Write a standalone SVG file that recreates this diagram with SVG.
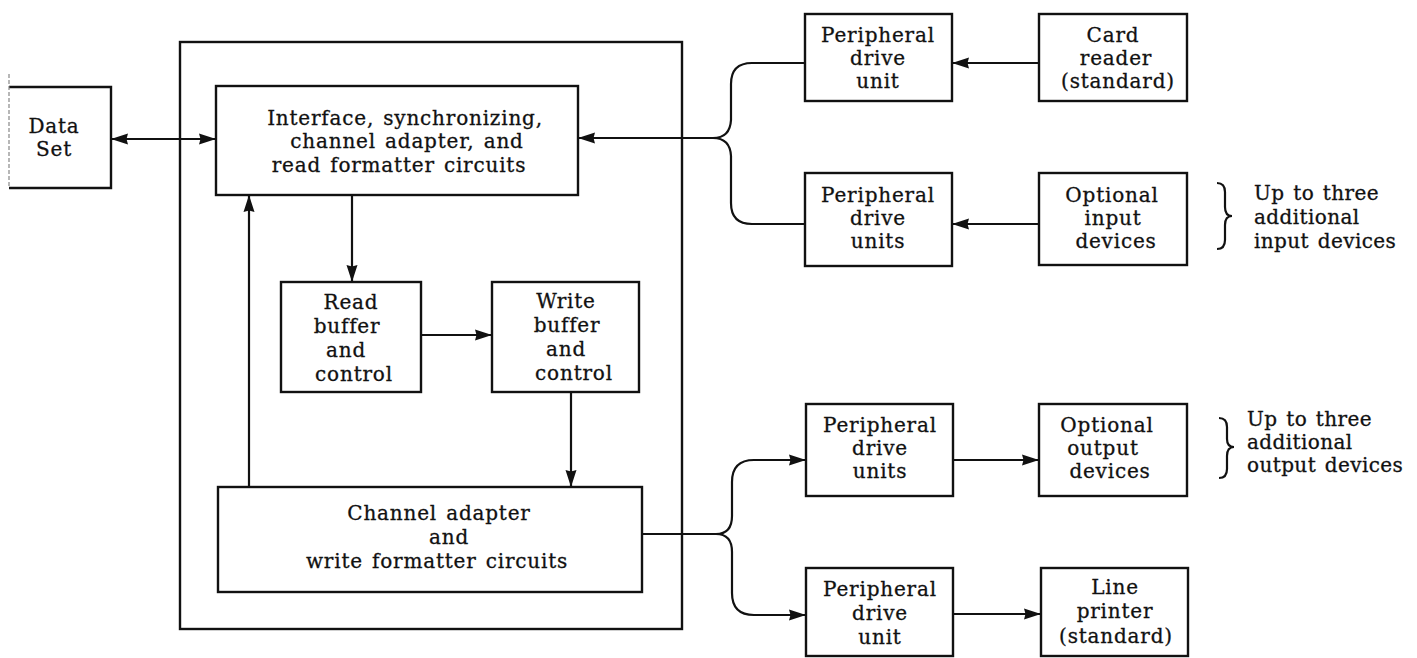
<svg xmlns="http://www.w3.org/2000/svg" width="1417" height="658" viewBox="0 0 1417 658">
  <style>
    .box { fill: none; stroke: #111; stroke-width: 2.4; }
    .wire { fill: none; stroke: #111; stroke-width: 2.2; }
    .lbl { font-family: "DejaVu Serif", "Liberation Serif", serif; font-size: 20px; fill: #111; stroke: #111; stroke-width: 0.3; text-anchor: middle; letter-spacing: 0.8px; word-spacing: 2px; }
    .note { font-family: "DejaVu Serif", "Liberation Serif", serif; font-size: 20px; fill: #111; stroke: #111; stroke-width: 0.3; letter-spacing: 0.4px; word-spacing: 2px; }
  </style>
  <defs>
    <marker id="arrow" viewBox="0 0 17 12" refX="17" refY="6" markerWidth="17" markerHeight="12" markerUnits="userSpaceOnUse" orient="auto-start-reverse">
      <path d="M0,0.5 L17,6 L0,11.5 L1.5,6 Z" fill="#111"/>
    </marker>
  </defs>
  <rect width="1417" height="658" fill="#fff"/>

  <!-- enclosing controller frame -->
  <g id="controller-frame">
    <rect class="box" x="180" y="42" width="502" height="587"/>
  </g>

  <g id="data-set">
    <path class="box" d="M9 87 H111 V188 H9"/>
    <line x1="9" y1="74" x2="9" y2="188" stroke="#888" stroke-width="1.2" stroke-dasharray="4 2"/>
    <text class="lbl" x="54" y="133">Data</text>
    <text class="lbl" x="54" y="156">Set</text>
  </g>

  <g id="interface">
    <rect class="box" x="216" y="86" width="362" height="109"/>
    <text class="lbl" x="405" y="125">Interface, synchronizing,</text>
    <text class="lbl" x="407" y="148">channel adapter, and</text>
    <text class="lbl" x="399" y="172">read formatter circuits</text>
  </g>

  <g id="read-buffer">
    <rect class="box" x="281" y="282" width="140" height="110"/>
    <text class="lbl" x="351" y="309">Read</text>
    <text class="lbl" x="347" y="333">buffer</text>
    <text class="lbl" x="346" y="357">and</text>
    <text class="lbl" x="354" y="381">control</text>
  </g>

  <g id="write-buffer">
    <rect class="box" x="492" y="282" width="147" height="110"/>
    <text class="lbl" x="566" y="308">Write</text>
    <text class="lbl" x="567" y="332">buffer</text>
    <text class="lbl" x="566" y="356">and</text>
    <text class="lbl" x="574" y="380">control</text>
  </g>

  <g id="channel-adapter">
    <rect class="box" x="218" y="487" width="424" height="105"/>
    <text class="lbl" x="439" y="520">Channel adapter</text>
    <text class="lbl" x="449" y="544">and</text>
    <text class="lbl" x="437" y="568">write formatter circuits</text>
  </g>

  <g id="pdu-card">
    <rect class="box" x="805" y="14" width="147" height="87"/>
    <text class="lbl" x="878" y="42">Peripheral</text>
    <text class="lbl" x="878" y="65">drive</text>
    <text class="lbl" x="878" y="88">unit</text>
  </g>

  <g id="card-reader">
    <rect class="box" x="1039" y="14" width="148" height="87"/>
    <text class="lbl" x="1113" y="42">Card</text>
    <text class="lbl" x="1116" y="65">reader</text>
    <text class="lbl" x="1118" y="88">(standard)</text>
  </g>

  <g id="pdu-input">
    <rect class="box" x="805" y="173" width="147" height="93"/>
    <text class="lbl" x="878" y="202">Peripheral</text>
    <text class="lbl" x="878" y="225">drive</text>
    <text class="lbl" x="878" y="248">units</text>
  </g>

  <g id="optional-input">
    <rect class="box" x="1039" y="173" width="148" height="92"/>
    <text class="lbl" x="1112" y="202">Optional</text>
    <text class="lbl" x="1113" y="225">input</text>
    <text class="lbl" x="1116" y="248">devices</text>
  </g>

  <g id="input-note">
    <path class="wire" d="M1217 183 Q1225 183 1225 192 V207 Q1225 216 1232 216 Q1225 216 1225 225 V240 Q1225 249 1217 249"/>
    <text class="note" x="1254" y="200">Up to three</text>
    <text class="note" x="1254" y="224">additional</text>
    <text class="note" x="1254" y="248">input devices</text>
  </g>

  <g id="pdu-output">
    <rect class="box" x="806" y="404" width="147" height="92"/>
    <text class="lbl" x="880" y="432">Peripheral</text>
    <text class="lbl" x="880" y="455">drive</text>
    <text class="lbl" x="880" y="478">units</text>
  </g>

  <g id="optional-output">
    <rect class="box" x="1039" y="404" width="148" height="92"/>
    <text class="lbl" x="1107" y="432">Optional</text>
    <text class="lbl" x="1103" y="455">output</text>
    <text class="lbl" x="1110" y="478">devices</text>
  </g>

  <g id="output-note">
    <path class="wire" d="M1219 418 Q1227 418 1227 427 V439 Q1227 447 1234 447 Q1227 447 1227 456 V469 Q1227 478 1219 478"/>
    <text class="note" x="1247" y="426">Up to three</text>
    <text class="note" x="1247" y="449">additional</text>
    <text class="note" x="1247" y="472">output devices</text>
  </g>

  <g id="pdu-printer">
    <rect class="box" x="806" y="568" width="147" height="88"/>
    <text class="lbl" x="880" y="596">Peripheral</text>
    <text class="lbl" x="880" y="620">drive</text>
    <text class="lbl" x="880" y="644">unit</text>
  </g>

  <g id="line-printer">
    <rect class="box" x="1041" y="568" width="147" height="88"/>
    <text class="lbl" x="1115" y="594">Line</text>
    <text class="lbl" x="1115" y="618">printer</text>
    <text class="lbl" x="1116" y="643">(standard)</text>
  </g>

  <g id="connectors">
    <!-- data set link, both ways -->
    <line class="wire" x1="111" y1="139" x2="216" y2="139" marker-start="url(#arrow)" marker-end="url(#arrow)"/>
    <!-- internal data path -->
    <line class="wire" x1="352" y1="195" x2="352" y2="282" marker-end="url(#arrow)"/>
    <line class="wire" x1="421" y1="335" x2="492" y2="335" marker-end="url(#arrow)"/>
    <line class="wire" x1="571" y1="392" x2="571" y2="487" marker-end="url(#arrow)"/>
    <line class="wire" x1="249" y1="487" x2="249" y2="195" marker-end="url(#arrow)"/>
    <!-- input devices merging into the interface -->
    <path class="wire" d="M713 138 H578" marker-end="url(#arrow)"/>
    <path class="wire" d="M805 63 H752 Q731 63 731 84 V120 Q730 138 713 138"/>
    <path class="wire" d="M805 224 H752 Q731 224 731 203 V156 Q730 138 713 138"/>
    <line class="wire" x1="1039" y1="63" x2="952" y2="63" marker-end="url(#arrow)"/>
    <line class="wire" x1="1039" y1="224" x2="952" y2="224" marker-end="url(#arrow)"/>
    <!-- output fan-out -->
    <path class="wire" d="M642 534 H716 Q732 534 732 516 V482 Q732 460 754 460 H806" marker-end="url(#arrow)"/>
    <path class="wire" d="M716 534 Q732 534 732 552 V593 Q732 615 754 615 H806" marker-end="url(#arrow)"/>
    <line class="wire" x1="953" y1="460" x2="1039" y2="460" marker-end="url(#arrow)"/>
    <line class="wire" x1="953" y1="614" x2="1041" y2="614" marker-end="url(#arrow)"/>
  </g>
</svg>
